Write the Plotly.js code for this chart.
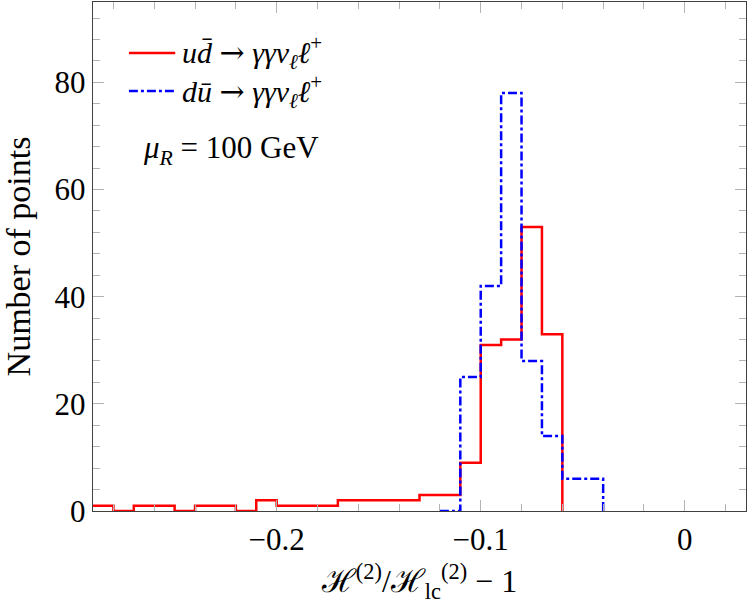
<!DOCTYPE html>
<html>
<head>
<meta charset="utf-8">
<script src="https://cdn.plot.ly/plotly-3.0.1.min.js"></script>
<style>
  html, body { margin: 0; padding: 0; background: #fff; }
  #chart { width: 749px; height: 611px; }
</style>
</head>
<body>
<div id="chart"></div>
<script>
// histogram bins, width 0.01
const binWidth = 0.01;

const udStart = -0.29;
const udCounts = [1, 0, 1, 1, 0, 1, 1, 0, 2, 1, 1, 1, 2, 2, 2, 2, 3, 3, 9, 31, 32, 53, 33];

const duStart = -0.12;
const duCounts = [0, 25, 42, 78, 28, 14, 6, 6];

const arrow = '<span style="font-family:DejaVu Serif">→</span>';
const seriesNames = [
  '<i>ud̄</i> ' + arrow + ' <i>γγν</i><sub><i>ℓ</i></sub><i>ℓ</i><sup>+</sup>',
  '<i>dū</i> ' + arrow + ' <i>γγν</i><sub><i>ℓ</i></sub><i>ℓ</i><sup>+</sup>'
];
const seriesColors = ['#ff0000', '#0000ff'];
const seriesDash = ['solid', 'dashdot'];

const xTickVals = [-0.2, -0.1, 0];
const xTickText = ['−0.2', '−0.1', '0'];

// step outline: left edge of each bin, closing back to zero at the last edge
function steps(start, counts) {
  const x = [], y = [];
  counts.forEach((c, i) => {
    x.push(+(start + i * binWidth).toFixed(4));
    y.push(c);
  });
  x.push(+(start + counts.length * binWidth).toFixed(4));
  y.push(0);
  return { x, y };
}

const ud = steps(udStart, udCounts);
const du = steps(duStart, duCounts);

const font = 'Liberation Serif, DejaVu Serif, serif';

const data = [ud, du].map((s, i) => ({
  x: s.x, y: s.y,
  mode: 'lines',
  name: seriesNames[i],
  line: { color: seriesColors[i], width: 2.5, shape: 'hv', dash: seriesDash[i] }
}));

// legend drawn by hand so the sample lines and spacing match
const legendShapes = [], legendNotes = [];
seriesNames.forEach((name, i) => {
  const y = 0.9 - i * 0.075;
  legendShapes.push({
    type: 'line', xref: 'paper', yref: 'paper',
    x0: 0.055, x1: 0.126, y0: y, y1: y,
    line: { color: seriesColors[i], width: 2.5, dash: seriesDash[i] }
  });
  legendNotes.push({
    xref: 'paper', yref: 'paper', x: 0.133, y: y,
    xanchor: 'left', yanchor: 'middle', showarrow: false,
    text: name,
    font: { family: font, size: 30, color: '#000' }
  });
});

const axisCommon = {
  showline: true,
  linecolor: '#404040',
  linewidth: 1.3,
  mirror: 'ticks',
  ticks: 'inside',
  tickcolor: '#b3b3b3',
  tickwidth: 1,
  ticklen: 11,
  showgrid: false,
  zeroline: false,
  tickfont: { family: font, size: 31, color: '#000' }
};

const layout = {
  width: 749,
  height: 611,
  margin: { l: 93, r: 3, t: 2, b: 100 },
  paper_bgcolor: '#fff',
  plot_bgcolor: '#fff',
  showlegend: false,
  xaxis: Object.assign({}, axisCommon, {
    range: [-0.29, 0.03],
    tickmode: 'array',
    tickvals: xTickVals,
    ticktext: xTickText,
    minor: { dtick: 0.02, tick0: 0, ticks: 'inside', ticklen: 7, tickcolor: '#b3b3b3', tickwidth: 1 },
    title: {
      text: 'ℋ<sup>(2)</sup>/ℋ<sub>lc</sub><sup>(2)</sup> − 1',
      font: { family: font, size: 32, color: '#000' },
      standoff: 14
    }
  }),
  yaxis: Object.assign({}, axisCommon, {
    range: [0, 95],
    dtick: 20,
    tick0: 0,
    minor: { dtick: 4, tick0: 0, ticks: 'inside', ticklen: 7, tickcolor: '#b3b3b3', tickwidth: 1 },
    title: {
      text: 'Number of points',
      font: { family: font, size: 34, color: '#000' },
      standoff: 22
    }
  }),
  shapes: legendShapes,
  annotations: legendNotes.concat([
    {
      xref: 'paper', yref: 'paper',
      x: 0.073, y: 0.71, xanchor: 'left', yanchor: 'middle',
      showarrow: false,
      text: '<i>μ</i><sub><i>R</i></sub> = 100 GeV',
      font: { family: font, size: 31, color: '#000' }
    }
  ])
};

Plotly.newPlot('chart', data, layout, { displayModeBar: false, staticPlot: true });
</script>
</body>
</html>
